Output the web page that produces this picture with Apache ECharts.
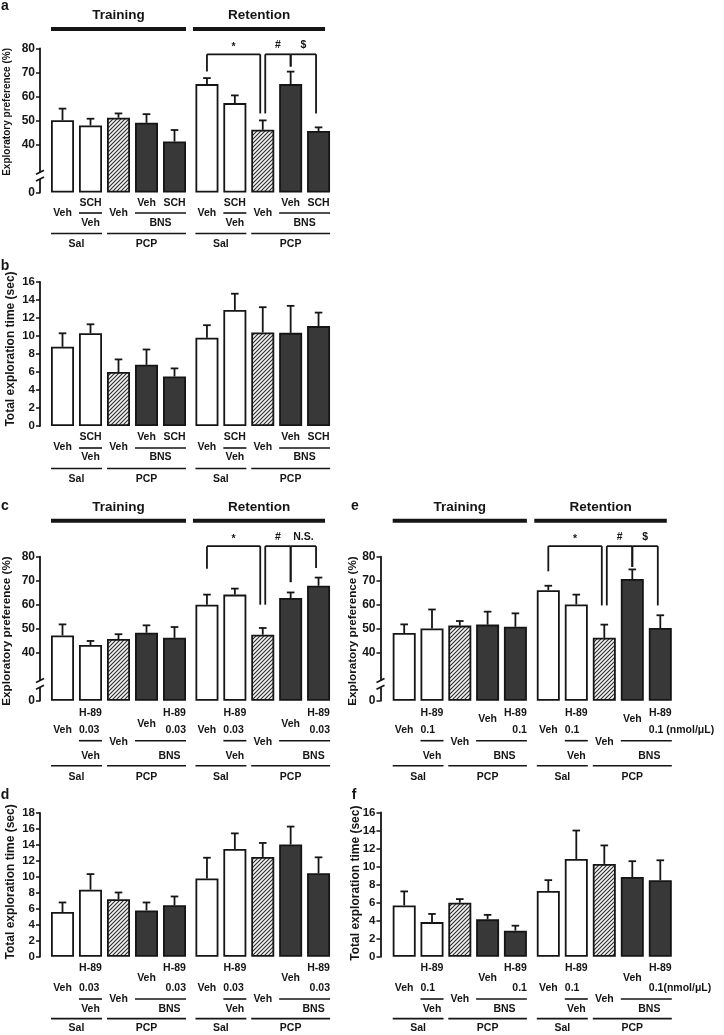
<!DOCTYPE html>
<html><head><meta charset="utf-8">
<script src="https://cdn.jsdelivr.net/npm/echarts@6/dist/echarts.min.js"></script>
<style>html,body{margin:0;padding:0;background:#fff}#c{width:724px;height:1035px}</style>
</head><body><div id="c"></div>
<script>
// ================= DATA =================
const catsSCH = ['Sal-Veh-Veh','Sal-Veh-SCH','PCP-Veh-Veh','PCP-BNS-Veh','PCP-BNS-SCH'];
const catsH89 = ['Sal-Veh-Veh','Sal-Veh-H89','PCP-Veh-Veh','PCP-BNS-Veh','PCP-BNS-H89'];
const phases = ['Training','Retention'];

// means and SEM (Training, Retention)
const aTrainMean=[50.1,47.9,51.1,49.0,41.2], aTrainSem=[4.8,2.8,1.8,3.6,4.8];
const aRetMean  =[65.1,57.2,46.1,65.1,45.6], aRetSem  =[2.5,3.2,3.9,5.2,1.5];
const bTrainMean=[8.8,10.3,6.0,6.8,5.5],     bTrainSem=[1.5,1.0,1.4,1.7,0.9];
const bRetMean  =[9.8,12.9,10.4,10.35,11.1], bRetSem  =[1.4,1.8,2.8,3.0,1.5];
const cTrainMean=[47.2,43.2,45.7,48.3,46.2], cTrainSem=[4.6,1.7,2.0,3.1,4.5];
const cRetMean  =[60.0,64.2,47.5,62.8,67.9], cRetSem  =[4.2,2.5,2.8,2.3,3.4];
const dTrainMean=[5.6,8.4,7.2,5.8,6.45],     dTrainSem=[1.2,1.95,0.85,1.0,1.1];
const dRetMean  =[9.8,13.5,12.5,14.05,10.45],dRetSem  =[2.6,1.95,1.75,2.25,2.0];
const eTrainMean=[48.2,50.1,51.3,51.7,50.8], eTrainSem=[3.6,7.9,1.9,5.4,5.6];
const eRetMean  =[66.0,60.1,46.2,70.7,50.3], eRetSem  =[1.9,4.1,5.5,4.0,5.3];
const fTrainMean=[5.7,3.85,6.0,4.15,2.9],    fTrainSem=[1.55,0.9,0.4,0.5,0.55];
const fRetMean  =[7.3,10.85,10.3,8.85,8.5],  fRetSem  =[1.2,3.15,2.05,1.75,2.2];

// axis ticks
const prefTicks=[20,40,50,60,70,80], prefTickLabels=['0','40','50','60','70','80'];
const prefBreak=[25.6,28.4];
const time16Ticks=[0,2,4,6,8,10,12,14,16], time16Labels=['0','2','4','6','8','10','12','14','16'];
const time18Ticks=[0,2,4,6,8,10,12,14,16,18], time18Labels=['0','2','4','6','8','10','12','14','16','18'];

// significance brackets: [label, fromBar, toBar, topValue, fromLegEnd, toLegEnd]
const aBrackets=[['*',0,2,77.5,70.3,52.9],['#',2,3,77.5,52.9,72.4],['$',3,4,77.5,72.4,52.9]];
const cBrackets=[['*',0,2,84.4,75.0,60.0],['#',2,3,84.4,60.0,69.4],['N.S.',3,4,84.4,69.4,75.3]];
const eBrackets=[['*',0,2,84.4,73.9,59.7],['#',2,3,84.4,59.7,75.7],['$',3,4,84.4,75.7,59.7]];

// x annotation labels
const drugSCH=['Veh','SCH','Veh','Veh','SCH'];
const drugH89=['Veh','H-89','Veh','Veh','H-89'];
const doseC=['','0.03','','','0.03'];
const doseE=['','0.1','','','0.1'];
const infusionLabels=['Veh','BNS'];
const pretreatLabels=['Sal','PCP'];
const unitE=' (nmol/μL)', unitF='(nmol/μL)';
const yNamePref='Exploratory preference (%)', yNameTime='Total exploration time (sec)';
const barFills=['open','open','hatch','dark','dark'];

// ================= STYLE / LAYOUT =================
const INK='#151515';
const FF='"Liberation Sans", Arial, Helvetica, sans-serif';
const BAR_W=23;
const ANNOT_FONT='bold 10.5px '+FF;
const TITLE_FONT='bold 13.5px '+FF;
const BRK_FONT='bold 10.5px '+FF;
const LEFT ={tLeft:48.5, tWidth:140, rLeft:193, rWidth:139.5, axisOffset:8.5};
const RIGHT={tLeft:390.3, tWidth:139, rLeft:534.3, rWidth:140, axisOffset:9.8};

function hatchCanvas(){
  const c=document.createElement('canvas'); c.width=4; c.height=4;
  const x=c.getContext('2d');
  x.fillStyle='#f4f4f4'; x.fillRect(0,0,4,4);
  x.strokeStyle='#2c2c2c'; x.lineWidth=1.1; x.beginPath();
  x.moveTo(0,4); x.lineTo(4,0); x.moveTo(-1,1); x.lineTo(1,-1); x.moveTo(3,5); x.lineTo(5,3);
  x.stroke(); return c;
}
const HATCH={image:hatchCanvas(), repeat:'repeat'};
function fillStyle(k){
  const base={borderColor:INK, borderWidth:1.8};
  if(k==='open') return Object.assign({color:'#fff'},base);
  if(k==='hatch') return Object.assign({color:HATCH},base);
  return Object.assign({color:'#383838'},base);
}

const rowsAB_a={top:10.5, mid:20.5, line1:20.5, bot:31, line2:41, grp:52};
const rowsAB_b={top:11.5, mid:21, line1:22, bot:31.5, line2:42.5, grp:53.5};
const rowsC={top:12.5, mid:23, dose:29.5, line1:40, line1v:41.5, bot:55.5, line2:65, grp:76};
const rowsE={top:12.5, mid:18, dose:29.5, line1:40, line1v:41.5, bot:55.5, line2:65, grp:76};
const rowsDF={top:11.8, mid:21.5, dose:31.8, line1:42.2, line1v:42.2, bot:52.8, line2:61.8, grp:71.8};

const panels=[
 {id:'a', col:LEFT, top:48.3, height:144.2, min:20, max:80, interval:10, ticks:prefTicks, tickLabels:prefTickLabels, brk:prefBreak,
  cats:catsSCH, means:[aTrainMean,aRetMean], sems:[aTrainSem,aRetSem], kind:'SCH', drug:drugSCH, brackets:aBrackets,
  rows:rowsAB_a, titleDy:-33.5, barDy:-19.3, tickFont:12, name:yNamePref, nameFont:10, nameGap:32.5, nameDy:-8.5, letter:[5,6], bnsShift:0},
 {id:'b', col:LEFT, top:282, height:144, min:0, max:16, interval:2, ticks:time16Ticks, tickLabels:time16Labels, brk:null,
  cats:catsSCH, means:[bTrainMean,bRetMean], sems:[bTrainSem,bRetSem], kind:'SCH', drug:drugSCH, brackets:null,
  rows:rowsAB_b, titleDy:null, tickFont:11.5, name:yNameTime, nameFont:12, nameGap:29, nameDy:-5, letter:[5,266], bnsShift:0},
 {id:'c', col:LEFT, top:556.7, height:144, min:20, max:80, interval:10, ticks:prefTicks, tickLabels:prefTickLabels, brk:prefBreak,
  cats:catsH89, means:[cTrainMean,cRetMean], sems:[cTrainSem,cRetSem], kind:'H89', drug:drugH89, dose:doseC, unit:'', brackets:cBrackets,
  rows:rowsC, titleDy:-49.5, barDy:-36, tickFont:12, name:yNamePref, nameFont:11.7, nameGap:33, nameDy:2.3, letter:[5,506], bnsShift:9},
 {id:'d', col:LEFT, top:813, height:143.8, min:0, max:18, interval:2, ticks:time18Ticks, tickLabels:time18Labels, brk:null,
  cats:catsH89, means:[dTrainMean,dRetMean], sems:[dTrainSem,dRetSem], kind:'H89', drug:drugH89, dose:doseC, unit:'', brackets:null,
  rows:rowsDF, titleDy:null, tickFont:11.5, name:yNameTime, nameFont:12, nameGap:29, nameDy:-3, letter:[5,795], bnsShift:9},
 {id:'e', col:RIGHT, top:556.7, height:144, min:20, max:80, interval:10, ticks:prefTicks, tickLabels:prefTickLabels, brk:prefBreak,
  cats:catsH89, means:[eTrainMean,eRetMean], sems:[eTrainSem,eRetSem], kind:'H89', drug:drugH89, dose:doseE, unit:unitE, brackets:eBrackets,
  rows:rowsE, titleDy:-49.5, barDy:-36, tickFont:12, name:yNamePref, nameFont:11.7, nameGap:27.5, nameDy:2.3, letter:[355,506], bnsShift:3},
 {id:'f', col:RIGHT, top:812.5, height:144.3, min:0, max:16, interval:2, ticks:time16Ticks, tickLabels:time16Labels, brk:null,
  cats:catsH89, means:[fTrainMean,fRetMean], sems:[fTrainSem,fRetSem], kind:'H89', drug:drugH89, dose:doseE, unit:unitF, brackets:null,
  rows:rowsDF, titleDy:null, tickFont:11.5, name:yNameTime, nameFont:12, nameGap:25, nameDy:-1.5, letter:[354,795], bnsShift:3}
];

// ================= RENDERERS =================
function errRender(params, api){
  const i=api.value(0);
  const p0=api.coord([i, api.value(1)]), p1=api.coord([i, api.value(2)]);
  return {type:'group', children:[
    {type:'line', shape:{x1:p0[0],y1:p0[1],x2:p1[0],y2:p1[1]}, style:{stroke:INK,lineWidth:1.8}},
    {type:'line', shape:{x1:p1[0]-3.8,y1:p1[1],x2:p1[0]+3.8,y2:p1[1]}, style:{stroke:INK,lineWidth:1.8}}
  ]};
}

function annotRender(p, g){
  return function(params, api){
    const cs=params.coordSys;
    const base=cs.y+cs.height, top=cs.y, hb=BAR_W/2, r=p.rows;
    const cx=i=>api.coord([i,p.min])[0];
    const L=i=>cx(i)-hb, R=i=>cx(i)+hb;
    const cy=v=>api.coord([0,v])[1];
    const ch=[];
    const txt=(s,x,y,align,font,rot)=>{ if(!s) return; ch.push({type:'text', x:x, y:y, rotation:rot||0,
      style:{text:s, fill:INK, font:font||ANNOT_FONT, align:align||'center', verticalAlign:'middle'}}); };
    const ln=(x1,y1,x2,y2,w)=>ch.push({type:'line', shape:{x1,y1,x2,y2}, style:{stroke:INK, lineWidth:w||1.6}});

    // group labels below the bars
    if(p.kind==='SCH'){
      txt(p.drug[0], cx(0), base+r.mid);
      txt(p.drug[1], cx(1), base+r.top);
      ln(L(1), base+r.line1, R(1), base+r.line1);
      txt(infusionLabels[0], cx(1), base+r.bot);
      txt(p.drug[2], cx(2), base+r.mid);
      txt(p.drug[3], cx(3), base+r.top);
      txt(p.drug[4], cx(4), base+r.top);
    } else {
      txt(p.drug[0], cx(0), base+r.dose);
      txt(p.drug[1], cx(1), base+r.top);
      txt(p.dose[1], L(1), base+r.dose, 'left');
      ln(L(1), base+r.line1, R(1), base+r.line1);
      txt(infusionLabels[0], cx(1), base+r.bot);
      txt(p.drug[2], cx(2), base+r.line1v);
      txt(p.drug[3], cx(3), base+r.mid);
      txt(p.drug[4], cx(4), base+r.top);
      if(g===1 && p.unit) txt(p.dose[4]+p.unit, L(4), base+r.dose, 'left');
      else txt(p.dose[4], R(4), base+r.dose, 'right');
    }
    ln(L(3), base+r.line1, R(4), base+r.line1);
    txt(infusionLabels[1], (cx(3)+cx(4))/2 + p.bnsShift, base+r.bot);
    ln(L(0), base+r.line2, R(1), base+r.line2);
    ln(L(2), base+r.line2, R(4), base+r.line2);
    txt(pretreatLabels[0], (cx(0)+cx(1))/2, base+r.grp);
    txt(pretreatLabels[1], (cx(2)+cx(4))/2, base+r.grp);

    // phase title + thick bar
    if(p.titleDy!==null){
      const x0 = g ? L(0)-2.5 : L(0), x1 = g ? R(4)-5 : R(4);
      ch.push({type:'rect', shape:{x:x0, y:top+p.barDy-2, width:x1-x0, height:4}, style:{fill:INK}});
      txt(phases[g], (x0+x1)/2, top+p.titleDy, 'center', TITLE_FONT);
    }
    // significance brackets
    if(g===1 && p.brackets){
      p.brackets.forEach(b=>{
        const dx0 = b[1]===2 ? 2.5 : 0, dx1 = b[2]===2 ? -2.5 : (b[2]===4 ? -2.5 : 0);
        const x0=cx(b[1])+dx0, x1=cx(b[2])+dx1, yT=cy(b[3]);
        ln(x0, cy(b[4]), x0, yT, 1.8); ln(x0, yT, x1, yT, 1.8); ln(x1, yT, x1, cy(b[5]), 1.8);
        txt(b[0], (x0+x1)/2, yT-(b[0]==='*'?7.5:9), 'center', BRK_FONT);
      });
    }
    // y axis name and break (training grid holds the visible axis)
    if(g===0){
      const ax=cs.x-p.col.axisOffset;
      txt(p.name, ax-p.nameGap, cs.y+cs.height/2+p.nameDy, 'center', 'bold '+p.nameFont+'px '+FF, Math.PI/2);
      if(p.brk){
        const yU=cy(p.brk[1]), yD=cy(p.brk[0]);
        ch.push({type:'rect', shape:{x:ax-3, y:yU, width:6, height:yD-yU}, style:{fill:'#fff'}});
        ln(ax-4, yU+2, ax+4, yU-2, 1.6);
        ln(ax-4, yD+2, ax+4, yD-2, 1.6);
      }
    }
    return {type:'group', children:ch};
  };
}

// ================= OPTION =================
const grids=[], xAxes=[], yAxes=[], series=[];
panels.forEach(p=>{
  [0,1].forEach(g=>{
    const gi=grids.length;
    grids.push({left: g ? p.col.rLeft : p.col.tLeft, width: g ? p.col.rWidth : p.col.tWidth,
      top:p.top, height:p.height, containLabel:false, outerBoundsMode:'none'});
    xAxes.push({gridIndex:gi, type:'category', data:p.cats, show:false});
    const fmt=v=>{ const k=p.ticks.indexOf(Math.round(v*100)/100); return k<0?'':p.tickLabels[k]; };
    yAxes.push({gridIndex:gi, type:'value', min:p.min, max:p.max, interval:p.interval, show:g===0,
      offset:p.col.axisOffset,
      axisLine:{show:true, lineStyle:{color:INK, width:1.8}},
      axisTick:{show:true, inside:false, length:4, lineStyle:{color:INK, width:1.5}, customValues:p.ticks},
      axisLabel:{show:true, customValues:p.ticks, formatter:fmt, margin:5, color:INK, fontWeight:'bold', fontSize:p.tickFont, fontFamily:FF},
      splitLine:{show:false}});
    const mean=p.means[g], sem=p.sems[g];
    if(p.min>0){
      series.push({type:'bar', xAxisIndex:gi, yAxisIndex:gi, stack:'s'+gi, barWidth:BAR_W, silent:true,
        data:mean.map(()=>p.min), itemStyle:{color:'rgba(0,0,0,0)', borderWidth:0}});
    }
    series.push({type:'bar', xAxisIndex:gi, yAxisIndex:gi, stack:'s'+gi, barWidth:BAR_W,
      data:mean.map((v,i)=>({value:v-p.min, itemStyle:fillStyle(barFills[i])}))});
    series.push({type:'custom', xAxisIndex:gi, yAxisIndex:gi, z:5, clip:false, silent:true,
      data:mean.map((v,i)=>[i, v, v+sem[i]]), renderItem:errRender});
    series.push({type:'custom', xAxisIndex:gi, yAxisIndex:gi, z:6, clip:false, silent:true,
      data:[[0,p.min]], renderItem:annotRender(p,g)});
  });
});

const graphic=panels.map(p=>({type:'text', x:p.letter[0], y:p.letter[1],
  style:{text:p.id, font:'bold 14px '+FF, fill:INK, align:'center', verticalAlign:'middle'}}));

const chart=echarts.init(document.getElementById('c'), null, {renderer:'canvas'});
chart.setOption({animation:false, backgroundColor:'#fff', grid:grids, xAxis:xAxes, yAxis:yAxes, series:series, graphic:graphic});
</script></body></html>
